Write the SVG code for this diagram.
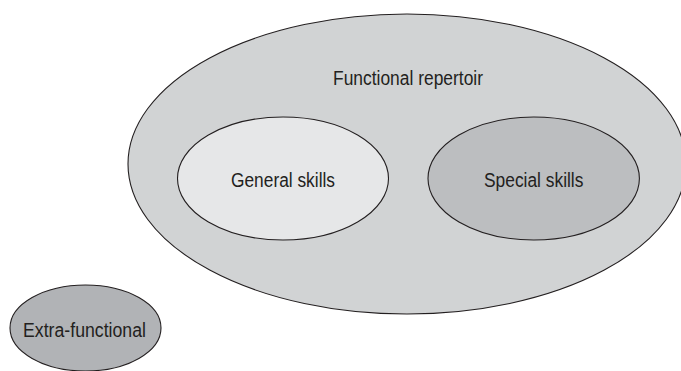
<svg xmlns="http://www.w3.org/2000/svg" width="681" height="371" viewBox="0 0 681 371">
  <style>
    .shape { stroke: #231f20; stroke-width: 1.1; }
    .label { font-family: "Liberation Sans", Arial, sans-serif; font-size: 20px; fill: #231f20; text-anchor: middle; }
  </style>
  <rect width="681" height="371" fill="#ffffff"/>
  <g id="functional-repertoir">
    <ellipse class="shape" cx="407" cy="164" rx="279" ry="150" fill="#d1d3d4"/>
    <text class="label" x="408" y="85" textLength="150" lengthAdjust="spacingAndGlyphs">Functional repertoir</text>
  </g>
  <g id="general-skills">
    <ellipse class="shape" cx="283" cy="178.5" rx="105.5" ry="61.5" fill="#e6e7e8"/>
    <text class="label" x="283" y="187" textLength="104" lengthAdjust="spacingAndGlyphs">General skills</text>
  </g>
  <g id="special-skills">
    <ellipse class="shape" cx="533.7" cy="178.5" rx="105.7" ry="61.5" fill="#bcbec0"/>
    <text class="label" x="533.7" y="187" textLength="99.4" lengthAdjust="spacingAndGlyphs">Special skills</text>
  </g>
  <g id="extra-functional">
    <ellipse class="shape" cx="85.5" cy="328" rx="75.5" ry="43" fill="#b1b3b6"/>
    <text class="label" x="84.5" y="337" textLength="123" lengthAdjust="spacingAndGlyphs">Extra-functional</text>
  </g>
  <g id="connectors"></g>
</svg>
